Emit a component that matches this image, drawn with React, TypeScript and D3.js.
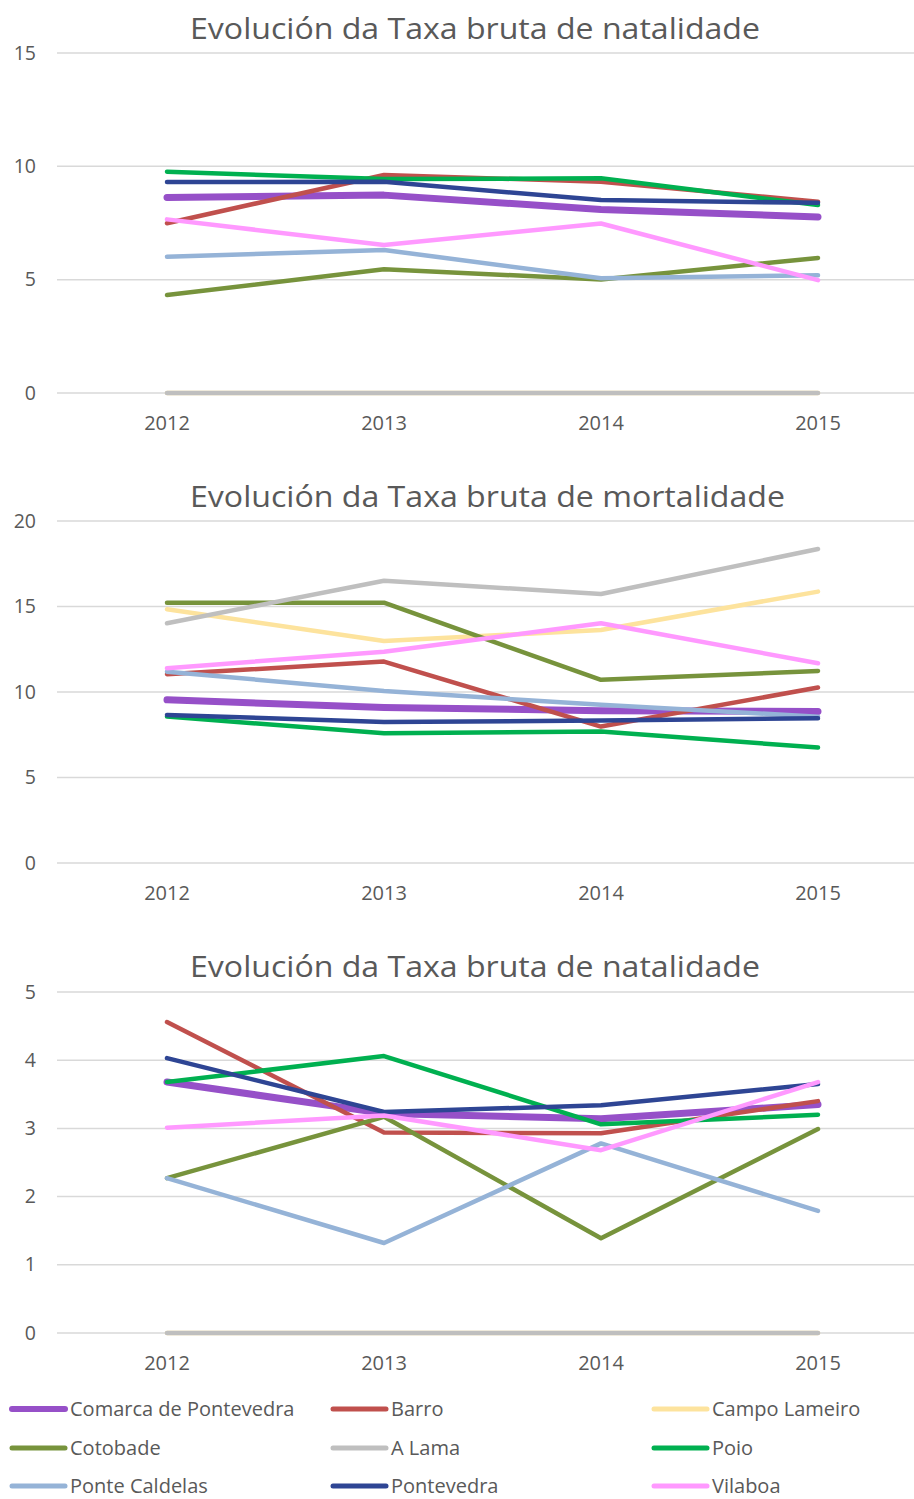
import React from "react";
import * as d3 from "d3";

const years = ["2012", "2013", "2014", "2015"];
const seriesNames = [
  "Comarca de Pontevedra",
  "Barro",
  "Campo Lameiro",
  "Cotobade",
  "A Lama",
  "Poio",
  "Ponte Caldelas",
  "Pontevedra",
  "Vilaboa",
];
const seriesColors = [
  "#9650c8",
  "#c0504d",
  "#fde39d",
  "#77933c",
  "#bfbfbf",
  "#00b050",
  "#95b3d7",
  "#2e4594",
  "#ff99ff",
];

// Chart 1: Taxa bruta de natalidade
const natalidade1: number[][] = [
  [8.63, 8.73, 8.1, 7.77],
  [7.49, 9.62, 9.32, 8.44],
  [0, 0, 0, 0],
  [4.32, 5.46, 5.01, 5.96],
  [0, 0, 0, 0],
  [9.76, 9.44, 9.47, 8.29],
  [6.01, 6.31, 5.06, 5.2],
  [9.31, 9.32, 8.51, 8.39],
  [7.66, 6.53, 7.48, 4.98],
];
// Chart 2: Taxa bruta de mortalidade
const mortalidade: number[][] = [
  [9.54, 9.09, 8.91, 8.86],
  [11.04, 11.78, 7.98, 10.26],
  [14.84, 12.98, 13.63, 15.87],
  [15.22, 15.22, 10.71, 11.23],
  [14.02, 16.51, 15.73, 18.36],
  [8.56, 7.59, 7.69, 6.75],
  [11.19, 10.06, 9.25, 8.56],
  [8.66, 8.24, 8.33, 8.47],
  [11.39, 12.36, 14.02, 11.68],
];
// Chart 3: third panel
const natalidade3: number[][] = [
  [3.68, 3.22, 3.14, 3.35],
  [4.56, 2.94, 2.93, 3.4],
  [0, 0, 0, 0],
  [2.27, 3.17, 1.39, 2.99],
  [0, 0, 0, 0],
  [3.68, 4.06, 3.06, 3.2],
  [2.27, 1.32, 2.78, 1.79],
  [4.03, 3.24, 3.34, 3.65],
  [3.01, 3.19, 2.68, 3.68],
];

const titles = [
  "Evolución da Taxa bruta de natalidade",
  "Evolución da Taxa bruta de mortalidade",
  "Evolución da Taxa bruta de natalidade",
];
const yTicks1 = [0, 5, 10, 15];
const yTicks2 = [0, 5, 10, 15, 20];
const yTicks3 = [0, 1, 2, 3, 4, 5];

const FONT = "'Open Sans', sans-serif";
const TEXT = "#595959";

const panels = [
  { title: titles[0], data: natalidade1, ticks: yTicks1, top: 53, zero: 393, titleY: 39, titleLen: 570, yearY: 430 },
  { title: titles[1], data: mortalidade, ticks: yTicks2, top: 521, zero: 863, titleY: 507, titleLen: 595, yearY: 900 },
  { title: titles[2], data: natalidade3, ticks: yTicks3, top: 992, zero: 1333, titleY: 977, titleLen: 570, yearY: 1370 },
];

const x = d3.scalePoint<string>().domain(years).range([58.5, 926.5]).padding(0.5);

function Panel({ p }: { p: (typeof panels)[number] }) {
  const maxT = p.ticks[p.ticks.length - 1];
  const y = d3.scaleLinear().domain([0, maxT]).range([p.zero, p.top]);
  const line = d3
    .line<number>()
    .x((_, i) => x(years[i]) as number)
    .y((v) => y(v));
  return (
    <g>
      <text
        x={190}
        y={p.titleY}
        textAnchor="start"
        fontFamily={FONT}
        fontSize={29}
        fill={TEXT}
        textLength={p.titleLen}
        lengthAdjust="spacingAndGlyphs"
      >
        {p.title}
      </text>
      {p.ticks.map((t) => (
        <g key={t}>
          <line x1={57} x2={914} y1={y(t)} y2={y(t)} stroke="#d9d9d9" strokeWidth={1.5} />
          <text x={36} y={y(t) + 6.5} textAnchor="end" fontFamily={FONT} fontSize={19.5} fill={TEXT}>
            {t}
          </text>
        </g>
      ))}
      {years.map((yr) => (
        <text key={yr} x={x(yr)} y={p.yearY} textAnchor="middle" fontFamily={FONT} fontSize={20} fill={TEXT}>
          {yr}
        </text>
      ))}
      {p.data.map((vals, i) => (
        <path
          key={i}
          d={line(vals) || ""}
          fill="none"
          stroke={seriesColors[i]}
          strokeWidth={i === 0 ? 7 : 4.5}
          strokeLinecap="round"
          strokeLinejoin="round"
        />
      ))}
    </g>
  );
}

const legendCols = [12, 333, 654];
const legendRows = [1409, 1448, 1486];

export default function App() {
  return (
    <svg
      width={914}
      height={1499}
      style={{ position: "absolute", left: 0, top: 0, background: "#fff" }}
    >
      <rect width={914} height={1499} fill="#fff" />
      {panels.map((p, i) => (
        <Panel key={i} p={p} />
      ))}
      {seriesNames.map((name, i) => {
        const cx = legendCols[i % 3];
        const cy = legendRows[Math.floor(i / 3)];
        return (
          <g key={name}>
            <line
              x1={cx}
              x2={cx + 53}
              y1={cy}
              y2={cy}
              stroke={seriesColors[i]}
              strokeWidth={i === 0 ? 6 : 5}
              strokeLinecap="round"
            />
            <text x={cx + 58} y={cy + 6.5} fontFamily={FONT} fontSize={20} fill={TEXT}>
              {name}
            </text>
          </g>
        );
      })}
    </svg>
  );
}
